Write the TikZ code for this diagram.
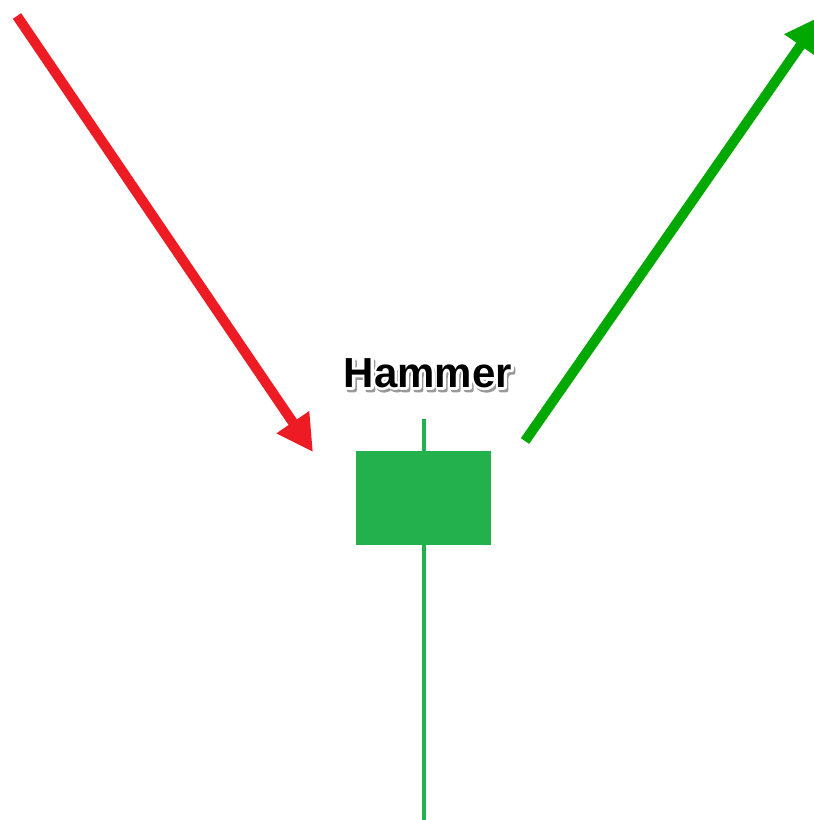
\documentclass[tikz,border=0pt]{standalone}
\usepackage{fontspec}
\setmainfont{Liberation Sans}
\usetikzlibrary{arrows.meta, positioning}
\definecolor{trendred}{RGB}{237,28,36}
\definecolor{trendgreen}{RGB}{0,168,0}
\definecolor{candlegreen}{RGB}{35,177,77}
% stroked text (width, stroke colour) for the halo and the shadow behind the title
\newcommand{\haloText}[3]{\special{pdf:literal direct #2 RG 2 Tr #1 w 1 J 1 j}#3\special{pdf:literal direct 0 Tr}}
\tikzset{
x=1pt, y=-1pt, % one unit is one pixel of the reference
trend/.style={line width=10pt, -{Triangle[length=36pt,width=37pt]}}, % thick arrows with big heads
body/.style={fill=candlegreen, draw=none}, % the candle body
wick/.style={draw=candlegreen, line width=3.5pt}, % the candle wick
label/.style={font=\bfseries\fontsize{42}{46}\selectfont}, % the title over the candle
}

\begin{document}
\begin{tikzpicture}
            \useasboundingbox (0,0) rectangle (814,820);

            \coordinate (wicktop) at (424,419);
            \coordinate (wickbot) at (424,822);
            \draw[wick] (wicktop) -- (wickbot);
            \node[body, minimum width=135pt, minimum height=94pt, inner sep=0pt] (candle) at (423.5,498) {};

            \node[label, text=black!40] (shadow) at (430,376) {\haloText{4}{0.6 0.6 0.6}{Hammer}};
            \node[label, text=white] (halo) at (428,373) {\haloText{5}{1 1 1}{Hammer}};
            \node[label] (hammer) at (428,373) {Hammer};

            \coordinate (downstart) at (17,16);
            \coordinate (downend) at (313,452);
            \coordinate (upstart) at (525,441);
            \coordinate (upend) at (821,16);

            \draw[trend, trendred] (downstart) -- (downend);
            \draw[trend, trendgreen] (upstart) -- (upend);
        \end{tikzpicture}
\end{document}
